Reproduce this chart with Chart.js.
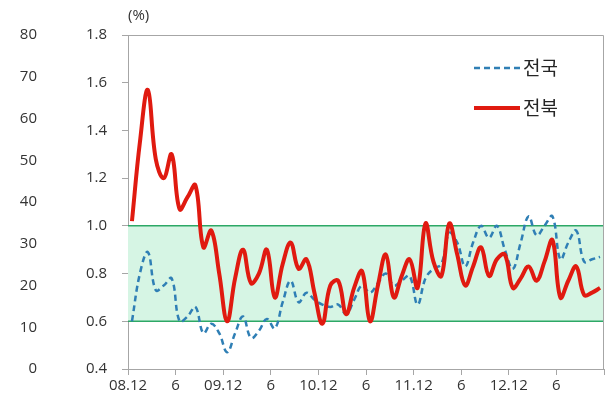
<!DOCTYPE html>
<html>
<head>
<meta charset="utf-8">
<script src="https://cdn.jsdelivr.net/npm/chart.js@4"></script>
<style>
  html, body { margin: 0; padding: 0; background: #fff; }
  #wrap { width: 606px; height: 407px; }
</style>
</head>
<body>
<div id="wrap"><canvas id="myChart" width="606" height="407"></canvas></div>
<script>
// monthly, 08.12 ~ 13.11
var tickLabels = ["08.12", "6", "09.12", "6", "10.12", "6", "11.12", "6", "12.12", "6"];

var nationValues = [
  0.60, 0.80, 0.89, 0.73, 0.75, 0.78, 0.60, 0.62, 0.66, 0.55,
  0.59, 0.55, 0.47, 0.55, 0.62, 0.53, 0.56, 0.61, 0.57, 0.68,
  0.77, 0.68, 0.72, 0.69, 0.67, 0.66, 0.67, 0.63, 0.69, 0.75,
  0.72, 0.76, 0.80, 0.75, 0.77, 0.79, 0.67, 0.78, 0.82, 0.84,
  0.97, 0.93, 0.83, 0.93, 1.00, 0.95, 1.00, 0.90, 0.82, 0.93,
  1.04, 0.96, 1.00, 1.04, 0.86, 0.93, 0.98, 0.85, 0.86, 0.87
];

var jeonbukValues = [
  1.02, 1.35, 1.57, 1.28, 1.20, 1.30, 1.07, 1.12, 1.17, 0.91,
  0.98, 0.80, 0.60, 0.78, 0.90, 0.76, 0.80, 0.90, 0.70, 0.84,
  0.93, 0.82, 0.86, 0.72, 0.59, 0.75, 0.77, 0.63, 0.74, 0.81,
  0.60, 0.75, 0.88, 0.70, 0.79, 0.86, 0.74, 1.01, 0.85, 0.79,
  1.01, 0.88, 0.75, 0.83, 0.91, 0.79, 0.86, 0.88, 0.74, 0.78,
  0.83, 0.77, 0.85, 0.94, 0.70, 0.77, 0.83, 0.71, 0.72, 0.74
];

// target band
var bandTop = 1.0;
var bandBottom = 0.6;
var monthCount = 60;

function toPoints(values) {
  return values.map(function (v, i) { return { x: i + 0.5, y: v }; });
}

var numFont = "'Open Sans', 'Noto Sans', sans-serif";
var krFont = "'Noto Sans CJK KR', sans-serif";

// frame, (%) and legend
var extras = {
  id: "extras",
  afterDatasetsDraw: function (chart) {
    var ctx = chart.ctx;
    var a = chart.chartArea;
    ctx.save();
    ctx.strokeStyle = "#a6a6a6";
    ctx.lineWidth = 1;
    ctx.beginPath();
    ctx.moveTo(a.left, a.top + 0.5);
    ctx.lineTo(a.right - 0.5, a.top + 0.5);
    ctx.lineTo(a.right - 0.5, a.bottom);
    ctx.stroke();

    ctx.fillStyle = "#333";
    ctx.font = "15px " + numFont;
    ctx.textBaseline = "middle";
    ctx.fillText("(%)", a.left, 16);

    var items = [chart.data.datasets[2], chart.data.datasets[3]];
    var rows = [68, 108];
    items.forEach(function (ds, k) {
      var y = rows[k];
      ctx.beginPath();
      ctx.strokeStyle = ds.borderColor;
      ctx.lineWidth = ds.borderWidth;
      ctx.setLineDash(ds.borderDash || []);
      ctx.moveTo(474, y);
      ctx.lineTo(520, y);
      ctx.stroke();
      ctx.setLineDash([]);
      ctx.fillStyle = "#262626";
      ctx.font = "19px " + krFont;
      ctx.fillText(ds.label, 523, y);
    });
    ctx.restore();
  }
};

var ctx = document.getElementById("myChart");
var myChart = new Chart(ctx, {
  type: "line",
  data: {
    datasets: [
      {
        label: "band top",
        data: [{ x: 0, y: bandTop }, { x: monthCount, y: bandTop }],
        borderColor: "#2da866",
        borderWidth: 1.5,
        backgroundColor: "#d6f5e4",
        pointRadius: 0,
        fill: "+1",
        tension: 0,
        order: 10
      },
      {
        label: "band bottom",
        data: [{ x: 0, y: bandBottom }, { x: monthCount, y: bandBottom }],
        borderColor: "#2da866",
        borderWidth: 1.5,
        pointRadius: 0,
        fill: false,
        tension: 0,
        order: 9
      },
      {
        label: "전국",
        data: toPoints(nationValues),
        borderColor: "#2f7fb5",
        borderWidth: 2.5,
        borderDash: [6, 4],
        pointRadius: 0,
        fill: false,
        tension: 0.4,
        order: 2
      },
      {
        label: "전북",
        data: toPoints(jeonbukValues),
        borderColor: "#e01a10",
        borderWidth: 4,
        pointRadius: 0,
        fill: false,
        tension: 0.4,
        order: 1
      }
    ]
  },
  options: {
    responsive: false,
    animation: false,
    events: [],
    layout: { padding: { top: 35, right: 1, left: 0, bottom: 0 } },
    plugins: {
      legend: { display: false },
      tooltip: { enabled: false }
    },
    scales: {
      x: {
        type: "linear",
        min: 0,
        max: monthCount,
        afterFit: function (scale) { scale.height = 38; },
        afterBuildTicks: function (scale) {
          scale.ticks = tickLabels.map(function (t, i) { return { value: i * 6 }; });
          scale.ticks.push({ value: monthCount });
        },
        ticks: {
          autoSkip: false,
          maxRotation: 0,
          padding: 2,
          color: "#333",
          font: { family: numFont, size: 15 },
          callback: function (v) {
            var k = Math.round(v / 6);
            return tickLabels[k] !== undefined && v % 6 === 0 ? tickLabels[k] : "";
          }
        },
        grid: { drawOnChartArea: false, drawTicks: true, tickLength: 6, color: "#a6a6a6" },
        border: { color: "#a6a6a6" }
      },
      y: {
        position: "left",
        weight: 1,
        min: 0.4,
        max: 1.8,
        afterFit: function (scale) { scale.width = 83; },
        ticks: {
          stepSize: 0.2,
          padding: 15,
          color: "#333",
          font: { family: numFont, size: 15 },
          callback: function (v) { return v.toFixed(1); }
        },
        grid: { drawOnChartArea: false, drawTicks: true, tickLength: 6, color: "#a6a6a6" },
        border: { color: "#a6a6a6" }
      },
      y2: {
        position: "left",
        weight: 2,
        min: 0,
        max: 80,
        afterFit: function (scale) { scale.width = 45; },
        ticks: {
          stepSize: 10,
          padding: 8,
          color: "#333",
          font: { family: numFont, size: 15 }
        },
        grid: { display: false, drawTicks: false },
        border: { display: false }
      }
    }
  },
  plugins: [extras]
});
</script>
</body>
</html>
